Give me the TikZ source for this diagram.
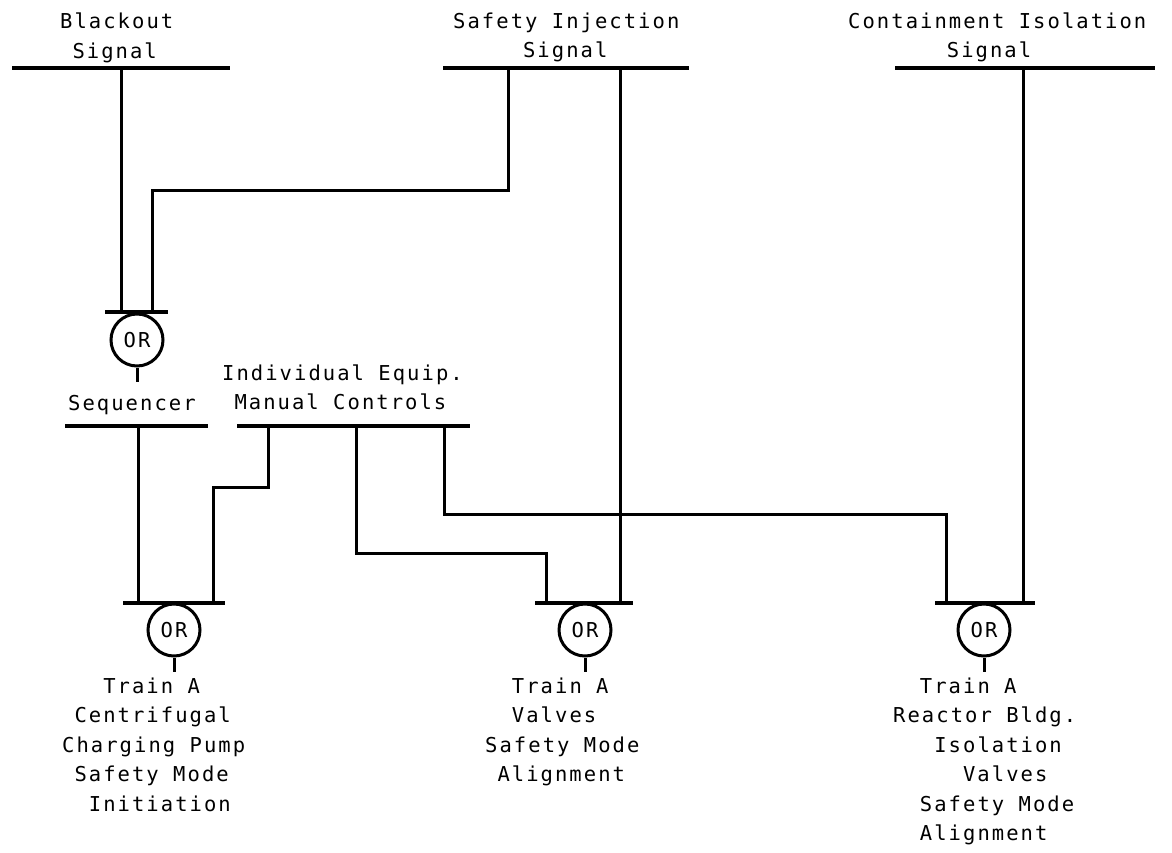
\documentclass[tikz,border=0pt]{standalone}
\usepackage{fontspec}
\setmainfont{DejaVu Sans Mono}[LetterSpace=10]
\usetikzlibrary{positioning,calc}

\tikzset{
  wire/.style={line width=3pt},
  busbar/.style={line width=3.5pt},
  orgate/.style={circle,draw,line width=3pt,minimum size=52pt,inner sep=0pt,
    font=\fontsize{20.5}{20.5}\selectfont},
  lbl/.style={inner sep=0pt,anchor=base west,align=left,
    font=\fontsize{20.5}{29.5}\selectfont},
}

\begin{document}
\begin{tikzpicture}[x=1pt,y=-1pt]
  \useasboundingbox (0,0) rectangle (1172,852);
  % signal buses at the top (labels sit on the baseline of their last line)
  \node[lbl] (blackout) at (60,58) {Blackout\\\phantom{x}Signal};
  \node[lbl] (sinj) at (453,57.5) {Safety Injection\\\phantom{xxxxx}Signal};
  \node[lbl] (ciso) at (848,57.5) {Containment Isolation\\\phantom{xxxxxxx}Signal};
  \draw[busbar] (12,68) -- (230,68);
  \draw[busbar] (443,68) -- (689,68);
  \draw[busbar] (895,68) -- (1155,68);
  \coordinate (bo1) at (121,68);
  \coordinate (si1) at (508,68);
  \coordinate (si2) at (620,68);
  \coordinate (ci1) at (1023,68);

  % OR gates
  \node[orgate] (or1) at (137,340) {OR};
  \node[orgate] (or2) at (174,630) {OR};
  \node[orgate] (or3) at (585,630) {OR};
  \node[orgate] (or4) at (984,630) {OR};
  \draw[busbar] (105,312) -- (168,312);
  \draw[busbar] (123,603) -- (225,603);
  \draw[busbar] (535,603) -- (633,603);
  \draw[busbar] (935,603) -- (1035,603);
  \coordinate (or1a) at (121,312); \coordinate (or1b) at (152,312);
  \coordinate (or2a) at (138,603); \coordinate (or2b) at (213,603);
  \coordinate (or3a) at (546,603); \coordinate (or3b) at (620,603);
  \coordinate (or4a) at (946,603); \coordinate (or4b) at (1023,603);
  \foreach \g in {or1,or2,or3,or4}
    \draw[wire] (\g.south) -- ++(0,14);

  % sequencer and manual controls
  \node[lbl] (seq) at (68,410) {Sequencer};
  \node[lbl] (manual) at (222,409.5) {Individual Equip.\\\phantom{x}Manual Controls};
  \draw[busbar] (65,426) -- (208,426);
  \draw[busbar] (237,426) -- (470,426);
  \coordinate (sq1) at (138,426);
  \coordinate (mc1) at (268,426);
  \coordinate (mc2) at (356,426);
  \coordinate (mc3) at (444,426);

  \draw[wire] (bo1) -- (or1a);
  \draw[wire] (si1) -- ++(0,122) -| (or1b);
  \draw[wire] (sq1) -- (or2a);
  \draw[wire] (mc1) -- ++(0,61) -| (or2b);
  \draw[wire] (mc2) -- ++(0,127) -| (or3a);
  \draw[wire] (si2) -- (or3b);
  \draw[wire] (mc3) -- ++(0,88) -| (or4a);
  \draw[wire] (ci1) -- (or4b);

  % outputs
  \node[lbl] (pump) at (62,811) {\phantom{xxx}Train A\\\phantom{x}Centrifugal\\Charging Pump\\\phantom{x}Safety Mode\\\phantom{xx}Initiation};
  \node[lbl] (valves) at (485,781.5) {\phantom{xx}Train A\\\phantom{xx}Valves\\Safety Mode\\\phantom{x}Alignment};
  \node[lbl] (rbiso) at (893,840.5) {\phantom{xx}Train A\\Reactor Bldg.\\\phantom{xxx}Isolation\\\phantom{xxxxx}Valves\\\phantom{xx}Safety Mode\\\phantom{xx}Alignment};
\end{tikzpicture}
\end{document}
